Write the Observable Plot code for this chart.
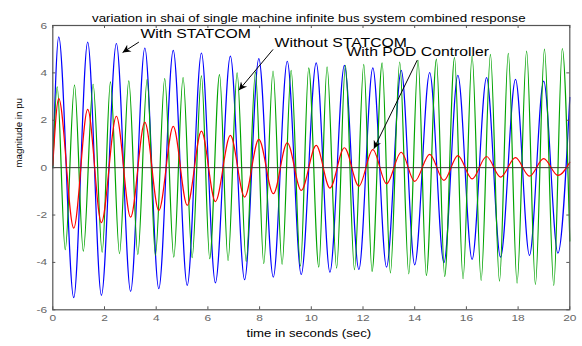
<!DOCTYPE html>
<html><head><meta charset="utf-8">
<script src="https://cdn.jsdelivr.net/npm/d3@7"></script>
<script src="https://cdn.jsdelivr.net/npm/@observablehq/plot@0.6"></script>
<style>
body{margin:0;background:#fff}
svg{font-family:"Liberation Sans",Arial,sans-serif}
</style>
</head><body><div id="chart"></div>
<script>
// ---- texts ----
const titleText = "variation in shai of single machine infinite bus system combined response";
const xLabel = "time in seconds (sec)";
const yLabel = "magnitude in pu";
const xTicks = [0, 2, 4, 6, 8, 10, 12, 14, 16, 18, 20];
const yTicks = [-6, -4, -2, 0, 2, 4, 6];

// ---- series: extrema (time s, magnitude pu) ----
const blueT = [0, 0.23, 0.81, 1.35, 1.88, 2.46, 3.01, 3.56, 4.10, 4.66, 5.20, 5.75, 6.29, 6.87, 7.42, 7.97, 8.53, 9.07, 9.61, 10.19, 10.72, 11.28, 11.84, 12.38, 12.91, 13.48, 14.00, 14.58, 15.13, 15.67, 16.22, 16.78, 17.32, 17.90, 18.44, 18.99, 19.54, 20];
const blueV = [0, 5.52, -5.49, 5.30, -5.39, 5.24, -5.22, 5.05, -5.11, 4.95, -4.97, 4.84, -4.86, 4.71, -4.73, 4.60, -4.62, 4.49, -4.51, 4.42, -4.41, 4.32, -4.30, 4.21, -4.20, 4.11, -4.10, 4.01, -4.01, 3.90, -3.87, 3.80, -3.78, 3.73, -3.70, 3.65, -3.61, 2.97];

const greenT = [0, 0.17, 0.48, 0.84, 1.18, 1.56, 1.91, 2.23, 2.58, 2.94, 3.29, 3.65, 3.97, 4.33, 4.68, 5.04, 5.39, 5.75, 6.07, 6.45, 6.78, 7.13, 7.48, 7.84, 8.16, 8.52, 8.87, 9.22, 9.58, 9.90, 10.29, 10.61, 10.98, 11.32, 11.67, 12.03, 12.35, 12.74, 13.06, 13.42, 13.77, 14.13, 14.45, 14.84, 15.16, 15.54, 15.87, 16.22, 16.57, 16.93, 17.28, 17.62, 17.96, 18.33, 18.67, 19.02, 19.38, 19.71, 20];
const greenV = [0, 3.41, -3.46, 3.48, -3.52, 3.52, -3.57, 3.62, -3.63, 3.66, -3.66, 3.73, -3.70, 3.76, -3.78, 3.80, -3.80, 3.87, -3.84, 3.93, -3.92, 4.00, -3.96, 4.04, -4.05, 4.08, -4.08, 4.11, -4.16, 4.21, -4.20, 4.25, -4.24, 4.32, -4.31, 4.36, -4.38, 4.42, -4.44, 4.46, -4.48, 4.53, -4.55, 4.58, -4.59, 4.65, -4.69, 4.72, -4.76, 4.78, -4.79, 4.82, -4.87, 4.92, -4.93, 5.00, -4.97, 5.03, -3.1];

const redT = [0, 0.23, 0.81, 1.35, 1.88, 2.46, 3.01, 3.56, 4.10, 4.66, 5.20, 5.75, 6.29, 6.87, 7.42, 7.97, 8.53, 9.07, 9.61, 10.19, 10.72, 11.28, 11.84, 12.38, 12.91, 13.48, 14.00, 14.58, 15.13, 15.67, 16.22, 16.78, 17.32, 17.90, 18.44, 18.99, 19.54, 20];
const redV = [0.1, 2.91, -2.55, 2.46, -2.32, 2.17, -2.09, 1.92, -1.81, 1.74, -1.59, 1.54, -1.43, 1.36, -1.24, 1.19, -1.10, 1.05, -0.96, 0.94, -0.86, 0.84, -0.78, 0.76, -0.68, 0.65, -0.58, 0.56, -0.54, 0.51, -0.47, 0.47, -0.40, 0.42, -0.36, 0.38, -0.33, 0.23];

// ---- annotations (data coordinates) ----
const noteText = ["With STATCOM", "Without STATCOM", "With POD Controller"];
const noteX = [3.39, 8.58, 11.36];
const noteY = [5.63, 5.24, 4.89];
const arrowX1 = [3.33, 8.52, 14.10];
const arrowY1 = [5.30, 4.99, 4.54];
const arrowX2 = [2.70, 7.20, 12.42];
const arrowY2 = [4.86, 3.27, 0.80];

// ---- build tables ----
const toRows = (T, V) => T.map((t, i) => ({t, v: V[i]}));
const blue = toRows(blueT, blueV);
const green = toRows(greenT, greenV);
const red = toRows(redT, redV);
const notes = noteText.map((text, i) => ({text, x: noteX[i], y: noteY[i]}));
const arrows = noteText.map((_, i) => ({x1: arrowX1[i], y1: arrowY1[i], x2: arrowX2[i], y2: arrowY2[i]}));

const W = 582, H = 346, mL = 52.3, mR = 12.7, mT = 25, mB = 36.7;
const innerW = W - mL - mR, innerH = H - mT - mB;
const FONT = '"Liberation Sans", Arial, sans-serif';
const frameCol = "#555", tickTxt = "#666";

const chart = Plot.plot({
  width: W, height: H,
  marginLeft: mL, marginRight: mR, marginTop: mT, marginBottom: mB,
  style: {fontFamily: FONT, background: "#fff", overflow: "visible"},
  x: {domain: [0, 20], axis: null},
  y: {domain: [-6, 6], axis: null},
  marks: [
    Plot.line(blue, {x: "t", y: "v", stroke: "#0000ff", strokeWidth: 1.2, curve: "monotone-x"}),
    Plot.line(green, {x: "t", y: "v", stroke: "#00a300", strokeWidth: 1.2, curve: "monotone-x"}),
    Plot.line(red, {x: "t", y: "v", stroke: "#ff0000", strokeWidth: 1.2, curve: "monotone-x"}),
    Plot.ruleY([0], {stroke: "#333", strokeWidth: 1}),
    Plot.frame({stroke: frameCol, strokeWidth: 1.2}),
    Plot.tickX(xTicks, {x: d => d, stroke: frameCol, insetTop: innerH - 3}),
    Plot.tickX(xTicks, {x: d => d, stroke: frameCol, insetBottom: innerH - 3}),
    Plot.tickY(yTicks, {y: d => d, stroke: frameCol, insetRight: innerW - 3}),
    Plot.tickY(yTicks, {y: d => d, stroke: frameCol, insetLeft: innerW - 3}),
    Plot.text(xTicks, {x: d => d, text: d => String(d), frameAnchor: "bottom", dy: 10.7, fontSize: 9.4, fill: tickTxt}),
    Plot.text(yTicks, {y: d => d, text: d => String(d), frameAnchor: "left", textAnchor: "end", dx: -5.6, fontSize: 9.4, fill: tickTxt}),
    Plot.text([titleText], {text: d => d, frameAnchor: "top", dy: -11, dx: -2.5, fontSize: 10.5, fill: "#000"}),
    Plot.text([xLabel], {text: d => d, frameAnchor: "bottom", dy: 26.7, dx: -2.5, fontSize: 10.4, fill: "#000"}),
    Plot.text([yLabel], {text: d => d, frameAnchor: "left", dx: -34, rotate: -90, fontSize: 9.8, fill: "#000"}),
    Plot.link(arrows, {x1: "x1", y1: "y1", x2: "x2", y2: "y2", stroke: "#000", strokeWidth: 1}),
    Plot.text(notes, {x: "x", y: "y", text: "text", textAnchor: "start", fontSize: 12.4, fill: "#000"})
  ]
});
document.getElementById("chart").appendChild(chart);

// horizontal stretch of the original figure's text
const STRETCH = 1.27;
chart.querySelectorAll("text").forEach(el => {
  const tr = el.getAttribute("transform") || "";
  if (tr.includes("rotate")) return;
  const len = el.getComputedTextLength();
  if (len > 0) {
    el.setAttribute("textLength", (len * STRETCH).toFixed(2));
    el.setAttribute("lengthAdjust", "spacingAndGlyphs");
  }
});

// filled arrowheads
const svg = d3.select(chart);
svg.insert("defs", ":first-child")
  .append("marker").attr("id", "ah")
  .attr("viewBox", "0 0 10 10").attr("refX", 10).attr("refY", 5)
  .attr("markerWidth", 11).attr("markerHeight", 8)
  .attr("markerUnits", "userSpaceOnUse").attr("orient", "auto")
  .append("path").attr("d", "M0,0L10,5L0,10L3,5Z").attr("fill", "#000");
svg.selectAll('g[aria-label="link"] path').attr("marker-end", "url(#ah)");
</script>
</body></html>
